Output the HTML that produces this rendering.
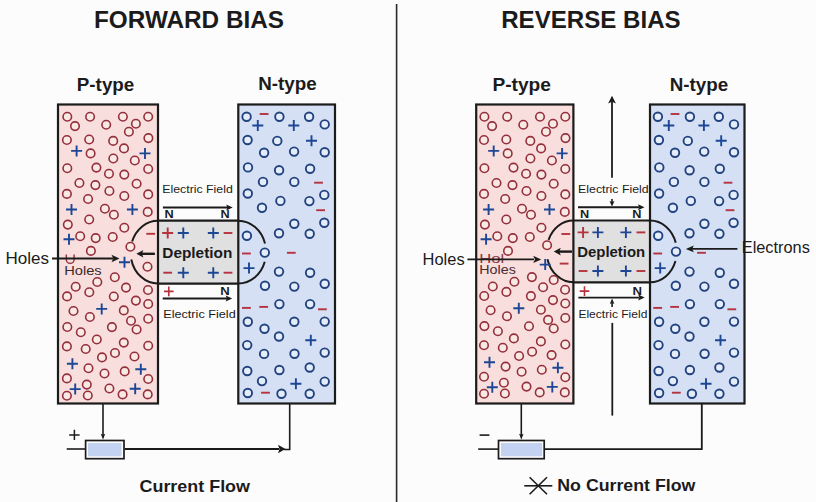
<!DOCTYPE html>
<html><head><meta charset="utf-8"><style>
html,body{margin:0;padding:0;background:#fdfcfd;}
body{width:816px;height:502px;overflow:hidden;}
svg{display:block;}
text{font-family:"Liberation Sans", sans-serif;}
</style></head><body>
<svg width="816" height="502" viewBox="0 0 816 502" font-family='"Liberation Sans", sans-serif'>
<rect width="816" height="502" fill="#fdfcfd"/>
<path d="M396.6 4.0L396.6 502.0" stroke="#2a2a2a" stroke-width="1.6" fill="none"/>
<text x="94" y="27.8" font-size="23.5" font-weight="bold" fill="#1b1b1b" textLength="190" lengthAdjust="spacingAndGlyphs">FORWARD BIAS</text>
<text x="501.2" y="27.8" font-size="23.5" font-weight="bold" fill="#1b1b1b" textLength="179.5" lengthAdjust="spacingAndGlyphs">REVERSE BIAS</text>
<text x="76.8" y="90.8" font-size="17.5" font-weight="bold" fill="#1b1b1b" textLength="57.5" lengthAdjust="spacingAndGlyphs">P-type</text>
<text x="258.2" y="90.4" font-size="17.5" font-weight="bold" fill="#1b1b1b" textLength="58.5" lengthAdjust="spacingAndGlyphs">N-type</text>
<text x="492.4" y="90.6" font-size="17.5" font-weight="bold" fill="#1b1b1b" textLength="58.5" lengthAdjust="spacingAndGlyphs">P-type</text>
<text x="669.7" y="90.5" font-size="17.5" font-weight="bold" fill="#1b1b1b" textLength="58.5" lengthAdjust="spacingAndGlyphs">N-type</text>
<g>
<rect x="58" y="104.5" width="100" height="299.0" fill="#f8dedd"/>
<rect x="238.3" y="104.5" width="96.69999999999999" height="299.0" fill="#d5e0f5"/>
<rect x="158" y="220.7" width="80.30000000000001" height="62.900000000000034" fill="#e0e0e0"/>
<circle cx="67.3" cy="116.7" r="4.25" fill="#f9e9e5" stroke="#952f3b" stroke-width="1.6"/>
<circle cx="90.1" cy="116.7" r="4.25" fill="#f9e9e5" stroke="#952f3b" stroke-width="1.6"/>
<circle cx="122.9" cy="116.7" r="4.25" fill="#f9e9e5" stroke="#952f3b" stroke-width="1.6"/>
<circle cx="148.2" cy="116.7" r="4.25" fill="#f9e9e5" stroke="#952f3b" stroke-width="1.6"/>
<circle cx="75.0" cy="126.1" r="4.25" fill="#f9e9e5" stroke="#952f3b" stroke-width="1.6"/>
<circle cx="106.2" cy="124.7" r="4.25" fill="#f9e9e5" stroke="#952f3b" stroke-width="1.6"/>
<circle cx="135.9" cy="123.7" r="4.25" fill="#f9e9e5" stroke="#952f3b" stroke-width="1.6"/>
<circle cx="128.9" cy="131.8" r="4.25" fill="#f9e9e5" stroke="#952f3b" stroke-width="1.6"/>
<circle cx="66.9" cy="140.0" r="4.25" fill="#f9e9e5" stroke="#952f3b" stroke-width="1.6"/>
<circle cx="89.2" cy="139.5" r="4.25" fill="#f9e9e5" stroke="#952f3b" stroke-width="1.6"/>
<circle cx="113.2" cy="140.9" r="4.25" fill="#f9e9e5" stroke="#952f3b" stroke-width="1.6"/>
<circle cx="148.4" cy="138.1" r="4.25" fill="#f9e9e5" stroke="#952f3b" stroke-width="1.6"/>
<circle cx="124.0" cy="148.4" r="4.25" fill="#f9e9e5" stroke="#952f3b" stroke-width="1.6"/>
<circle cx="90.6" cy="153.4" r="4.25" fill="#f9e9e5" stroke="#952f3b" stroke-width="1.6"/>
<circle cx="113.3" cy="158.5" r="4.25" fill="#f9e9e5" stroke="#952f3b" stroke-width="1.6"/>
<circle cx="134.8" cy="160.5" r="4.25" fill="#f9e9e5" stroke="#952f3b" stroke-width="1.6"/>
<circle cx="67.3" cy="168.2" r="4.25" fill="#f9e9e5" stroke="#952f3b" stroke-width="1.6"/>
<circle cx="96.4" cy="167.6" r="4.25" fill="#f9e9e5" stroke="#952f3b" stroke-width="1.6"/>
<circle cx="109.0" cy="173.7" r="4.25" fill="#f9e9e5" stroke="#952f3b" stroke-width="1.6"/>
<circle cx="124.3" cy="174.6" r="4.25" fill="#f9e9e5" stroke="#952f3b" stroke-width="1.6"/>
<circle cx="148.2" cy="169.0" r="4.25" fill="#f9e9e5" stroke="#952f3b" stroke-width="1.6"/>
<circle cx="79.4" cy="183.0" r="4.25" fill="#f9e9e5" stroke="#952f3b" stroke-width="1.6"/>
<circle cx="95.4" cy="185.1" r="4.25" fill="#f9e9e5" stroke="#952f3b" stroke-width="1.6"/>
<circle cx="109.4" cy="191.0" r="4.25" fill="#f9e9e5" stroke="#952f3b" stroke-width="1.6"/>
<circle cx="136.6" cy="183.7" r="4.25" fill="#f9e9e5" stroke="#952f3b" stroke-width="1.6"/>
<circle cx="66.9" cy="193.9" r="4.25" fill="#f9e9e5" stroke="#952f3b" stroke-width="1.6"/>
<circle cx="88.1" cy="199.0" r="4.25" fill="#f9e9e5" stroke="#952f3b" stroke-width="1.6"/>
<circle cx="124.3" cy="196.0" r="4.25" fill="#f9e9e5" stroke="#952f3b" stroke-width="1.6"/>
<circle cx="148.2" cy="194.4" r="4.25" fill="#f9e9e5" stroke="#952f3b" stroke-width="1.6"/>
<circle cx="104.9" cy="208.8" r="4.25" fill="#f9e9e5" stroke="#952f3b" stroke-width="1.6"/>
<circle cx="113.9" cy="214.8" r="4.25" fill="#f9e9e5" stroke="#952f3b" stroke-width="1.6"/>
<circle cx="89.2" cy="219.5" r="4.25" fill="#f9e9e5" stroke="#952f3b" stroke-width="1.6"/>
<circle cx="147.7" cy="211.9" r="4.25" fill="#f9e9e5" stroke="#952f3b" stroke-width="1.6"/>
<circle cx="67.8" cy="224.6" r="4.25" fill="#f9e9e5" stroke="#952f3b" stroke-width="1.6"/>
<circle cx="124.3" cy="227.7" r="4.25" fill="#f9e9e5" stroke="#952f3b" stroke-width="1.6"/>
<circle cx="80.2" cy="236.2" r="4.25" fill="#f9e9e5" stroke="#952f3b" stroke-width="1.6"/>
<circle cx="95.7" cy="238.1" r="4.25" fill="#f9e9e5" stroke="#952f3b" stroke-width="1.6"/>
<circle cx="112.7" cy="237.0" r="4.25" fill="#f9e9e5" stroke="#952f3b" stroke-width="1.6"/>
<circle cx="90.9" cy="250.9" r="4.25" fill="#f9e9e5" stroke="#952f3b" stroke-width="1.6"/>
<circle cx="114.8" cy="277.2" r="4.25" fill="#f9e9e5" stroke="#952f3b" stroke-width="1.6"/>
<circle cx="97.3" cy="282.0" r="4.25" fill="#f9e9e5" stroke="#952f3b" stroke-width="1.6"/>
<circle cx="75.7" cy="286.8" r="4.25" fill="#f9e9e5" stroke="#952f3b" stroke-width="1.6"/>
<circle cx="126.0" cy="287.6" r="4.25" fill="#f9e9e5" stroke="#952f3b" stroke-width="1.6"/>
<circle cx="148.0" cy="290.0" r="4.25" fill="#f9e9e5" stroke="#952f3b" stroke-width="1.6"/>
<circle cx="89.3" cy="292.3" r="4.25" fill="#f9e9e5" stroke="#952f3b" stroke-width="1.6"/>
<circle cx="67.1" cy="296.4" r="4.25" fill="#f9e9e5" stroke="#952f3b" stroke-width="1.6"/>
<circle cx="113.8" cy="296.5" r="4.25" fill="#f9e9e5" stroke="#952f3b" stroke-width="1.6"/>
<circle cx="135.9" cy="300.6" r="4.25" fill="#f9e9e5" stroke="#952f3b" stroke-width="1.6"/>
<circle cx="148.2" cy="304.0" r="4.25" fill="#f9e9e5" stroke="#952f3b" stroke-width="1.6"/>
<circle cx="73.5" cy="311.0" r="4.25" fill="#f9e9e5" stroke="#952f3b" stroke-width="1.6"/>
<circle cx="123.8" cy="310.4" r="4.25" fill="#f9e9e5" stroke="#952f3b" stroke-width="1.6"/>
<circle cx="89.9" cy="317.0" r="4.25" fill="#f9e9e5" stroke="#952f3b" stroke-width="1.6"/>
<circle cx="148.2" cy="318.8" r="4.25" fill="#f9e9e5" stroke="#952f3b" stroke-width="1.6"/>
<circle cx="131.0" cy="320.7" r="4.25" fill="#f9e9e5" stroke="#952f3b" stroke-width="1.6"/>
<circle cx="67.3" cy="327.0" r="4.25" fill="#f9e9e5" stroke="#952f3b" stroke-width="1.6"/>
<circle cx="111.9" cy="327.1" r="4.25" fill="#f9e9e5" stroke="#952f3b" stroke-width="1.6"/>
<circle cx="136.6" cy="329.5" r="4.25" fill="#f9e9e5" stroke="#952f3b" stroke-width="1.6"/>
<circle cx="80.8" cy="332.3" r="4.25" fill="#f9e9e5" stroke="#952f3b" stroke-width="1.6"/>
<circle cx="96.8" cy="339.5" r="4.25" fill="#f9e9e5" stroke="#952f3b" stroke-width="1.6"/>
<circle cx="123.8" cy="342.6" r="4.25" fill="#f9e9e5" stroke="#952f3b" stroke-width="1.6"/>
<circle cx="66.9" cy="346.4" r="4.25" fill="#f9e9e5" stroke="#952f3b" stroke-width="1.6"/>
<circle cx="85.7" cy="349.0" r="4.25" fill="#f9e9e5" stroke="#952f3b" stroke-width="1.6"/>
<circle cx="148.2" cy="345.7" r="4.25" fill="#f9e9e5" stroke="#952f3b" stroke-width="1.6"/>
<circle cx="115.0" cy="353.0" r="4.25" fill="#f9e9e5" stroke="#952f3b" stroke-width="1.6"/>
<circle cx="102.0" cy="357.4" r="4.25" fill="#f9e9e5" stroke="#952f3b" stroke-width="1.6"/>
<circle cx="134.5" cy="356.5" r="4.25" fill="#f9e9e5" stroke="#952f3b" stroke-width="1.6"/>
<circle cx="88.5" cy="368.2" r="4.25" fill="#f9e9e5" stroke="#952f3b" stroke-width="1.6"/>
<circle cx="104.5" cy="373.5" r="4.25" fill="#f9e9e5" stroke="#952f3b" stroke-width="1.6"/>
<circle cx="124.7" cy="371.4" r="4.25" fill="#f9e9e5" stroke="#952f3b" stroke-width="1.6"/>
<circle cx="66.9" cy="378.4" r="4.25" fill="#f9e9e5" stroke="#952f3b" stroke-width="1.6"/>
<circle cx="148.2" cy="379.0" r="4.25" fill="#f9e9e5" stroke="#952f3b" stroke-width="1.6"/>
<circle cx="86.8" cy="384.6" r="4.25" fill="#f9e9e5" stroke="#952f3b" stroke-width="1.6"/>
<circle cx="109.4" cy="388.5" r="4.25" fill="#f9e9e5" stroke="#952f3b" stroke-width="1.6"/>
<circle cx="66.9" cy="395.8" r="4.25" fill="#f9e9e5" stroke="#952f3b" stroke-width="1.6"/>
<circle cx="87.8" cy="395.5" r="4.25" fill="#f9e9e5" stroke="#952f3b" stroke-width="1.6"/>
<circle cx="122.6" cy="394.4" r="4.25" fill="#f9e9e5" stroke="#952f3b" stroke-width="1.6"/>
<circle cx="147.7" cy="394.4" r="4.25" fill="#f9e9e5" stroke="#952f3b" stroke-width="1.6"/>
<path d="M71.1 150.9H82.1M76.6 145.4V156.4" stroke="#1d4795" stroke-width="1.9" fill="none"/>
<path d="M139.5 153.4H150.5M145.0 147.9V158.9" stroke="#1d4795" stroke-width="1.9" fill="none"/>
<path d="M66.0 209.5H77.0M71.5 204.0V215.0" stroke="#1d4795" stroke-width="1.9" fill="none"/>
<path d="M126.9 209.5H137.9M132.4 204.0V215.0" stroke="#1d4795" stroke-width="1.9" fill="none"/>
<path d="M63.5 239.2H74.5M69.0 233.7V244.7" stroke="#1d4795" stroke-width="1.9" fill="none"/>
<path d="M96.2 308.9H107.2M101.7 303.4V314.4" stroke="#1d4795" stroke-width="1.9" fill="none"/>
<path d="M66.9 363.7H77.9M72.4 358.2V369.2" stroke="#1d4795" stroke-width="1.9" fill="none"/>
<path d="M135.3 369.3H146.3M140.8 363.8V374.8" stroke="#1d4795" stroke-width="1.9" fill="none"/>
<path d="M69.7 389.1H80.7M75.2 383.6V394.6" stroke="#1d4795" stroke-width="1.9" fill="none"/>
<path d="M129.7 388.8H140.7M135.2 383.3V394.3" stroke="#1d4795" stroke-width="1.9" fill="none"/>
<circle cx="246.6" cy="116.7" r="4.25" fill="#e5edfa" stroke="#22437f" stroke-width="1.9"/>
<circle cx="279.4" cy="116.7" r="4.25" fill="#e5edfa" stroke="#22437f" stroke-width="1.9"/>
<circle cx="309.1" cy="116.7" r="4.25" fill="#e5edfa" stroke="#22437f" stroke-width="1.9"/>
<circle cx="324.7" cy="124.4" r="4.25" fill="#e5edfa" stroke="#22437f" stroke-width="1.9"/>
<circle cx="247.6" cy="140.0" r="4.25" fill="#e5edfa" stroke="#22437f" stroke-width="1.9"/>
<circle cx="277.3" cy="140.9" r="4.25" fill="#e5edfa" stroke="#22437f" stroke-width="1.9"/>
<circle cx="264.1" cy="152.7" r="4.25" fill="#e5edfa" stroke="#22437f" stroke-width="1.9"/>
<circle cx="294.1" cy="151.6" r="4.25" fill="#e5edfa" stroke="#22437f" stroke-width="1.9"/>
<circle cx="324.7" cy="152.3" r="4.25" fill="#e5edfa" stroke="#22437f" stroke-width="1.9"/>
<circle cx="248.0" cy="167.4" r="4.25" fill="#e5edfa" stroke="#22437f" stroke-width="1.9"/>
<circle cx="279.1" cy="170.3" r="4.25" fill="#e5edfa" stroke="#22437f" stroke-width="1.9"/>
<circle cx="310.1" cy="168.7" r="4.25" fill="#e5edfa" stroke="#22437f" stroke-width="1.9"/>
<circle cx="263.0" cy="181.9" r="4.25" fill="#e5edfa" stroke="#22437f" stroke-width="1.9"/>
<circle cx="294.3" cy="181.9" r="4.25" fill="#e5edfa" stroke="#22437f" stroke-width="1.9"/>
<circle cx="247.8" cy="193.5" r="4.25" fill="#e5edfa" stroke="#22437f" stroke-width="1.9"/>
<circle cx="324.3" cy="194.9" r="4.25" fill="#e5edfa" stroke="#22437f" stroke-width="1.9"/>
<circle cx="280.4" cy="200.9" r="4.25" fill="#e5edfa" stroke="#22437f" stroke-width="1.9"/>
<circle cx="309.4" cy="201.1" r="4.25" fill="#e5edfa" stroke="#22437f" stroke-width="1.9"/>
<circle cx="262.0" cy="207.7" r="4.25" fill="#e5edfa" stroke="#22437f" stroke-width="1.9"/>
<circle cx="294.3" cy="223.7" r="4.25" fill="#e5edfa" stroke="#22437f" stroke-width="1.9"/>
<circle cx="324.3" cy="222.8" r="4.25" fill="#e5edfa" stroke="#22437f" stroke-width="1.9"/>
<circle cx="246.9" cy="235.8" r="4.25" fill="#e5edfa" stroke="#22437f" stroke-width="1.9"/>
<circle cx="279.0" cy="233.2" r="4.25" fill="#e5edfa" stroke="#22437f" stroke-width="1.9"/>
<circle cx="309.7" cy="233.7" r="4.25" fill="#e5edfa" stroke="#22437f" stroke-width="1.9"/>
<circle cx="279.0" cy="271.6" r="4.25" fill="#e5edfa" stroke="#22437f" stroke-width="1.9"/>
<circle cx="310.1" cy="272.7" r="4.25" fill="#e5edfa" stroke="#22437f" stroke-width="1.9"/>
<circle cx="265.0" cy="285.8" r="4.25" fill="#e5edfa" stroke="#22437f" stroke-width="1.9"/>
<circle cx="294.3" cy="286.6" r="4.25" fill="#e5edfa" stroke="#22437f" stroke-width="1.9"/>
<circle cx="324.7" cy="283.8" r="4.25" fill="#e5edfa" stroke="#22437f" stroke-width="1.9"/>
<circle cx="279.4" cy="304.1" r="4.25" fill="#e5edfa" stroke="#22437f" stroke-width="1.9"/>
<circle cx="310.1" cy="304.1" r="4.25" fill="#e5edfa" stroke="#22437f" stroke-width="1.9"/>
<circle cx="247.8" cy="321.8" r="4.25" fill="#e5edfa" stroke="#22437f" stroke-width="1.9"/>
<circle cx="294.3" cy="321.8" r="4.25" fill="#e5edfa" stroke="#22437f" stroke-width="1.9"/>
<circle cx="324.7" cy="321.6" r="4.25" fill="#e5edfa" stroke="#22437f" stroke-width="1.9"/>
<circle cx="264.5" cy="328.8" r="4.25" fill="#e5edfa" stroke="#22437f" stroke-width="1.9"/>
<circle cx="279.0" cy="336.5" r="4.25" fill="#e5edfa" stroke="#22437f" stroke-width="1.9"/>
<circle cx="247.2" cy="345.1" r="4.25" fill="#e5edfa" stroke="#22437f" stroke-width="1.9"/>
<circle cx="264.1" cy="353.9" r="4.25" fill="#e5edfa" stroke="#22437f" stroke-width="1.9"/>
<circle cx="294.5" cy="353.7" r="4.25" fill="#e5edfa" stroke="#22437f" stroke-width="1.9"/>
<circle cx="324.7" cy="352.6" r="4.25" fill="#e5edfa" stroke="#22437f" stroke-width="1.9"/>
<circle cx="247.3" cy="371.0" r="4.25" fill="#e5edfa" stroke="#22437f" stroke-width="1.9"/>
<circle cx="279.4" cy="370.0" r="4.25" fill="#e5edfa" stroke="#22437f" stroke-width="1.9"/>
<circle cx="309.7" cy="367.5" r="4.25" fill="#e5edfa" stroke="#22437f" stroke-width="1.9"/>
<circle cx="262.0" cy="381.1" r="4.25" fill="#e5edfa" stroke="#22437f" stroke-width="1.9"/>
<circle cx="324.7" cy="381.6" r="4.25" fill="#e5edfa" stroke="#22437f" stroke-width="1.9"/>
<circle cx="247.8" cy="393.0" r="4.25" fill="#e5edfa" stroke="#22437f" stroke-width="1.9"/>
<circle cx="281.5" cy="393.7" r="4.25" fill="#e5edfa" stroke="#22437f" stroke-width="1.9"/>
<circle cx="309.7" cy="393.7" r="4.25" fill="#e5edfa" stroke="#22437f" stroke-width="1.9"/>
<path d="M252.3 125.5H263.3M257.8 120.0V131.0" stroke="#1d4795" stroke-width="1.9" fill="none"/>
<path d="M288.3 125.5H299.3M293.8 120.0V131.0" stroke="#1d4795" stroke-width="1.9" fill="none"/>
<path d="M306.0 140.7H317.0M311.5 135.2V146.2" stroke="#1d4795" stroke-width="1.9" fill="none"/>
<path d="M243.5 268.1H254.5M249.0 262.6V273.6" stroke="#1d4795" stroke-width="1.9" fill="none"/>
<path d="M305.3 340.3H316.3M310.8 334.8V345.8" stroke="#1d4795" stroke-width="1.9" fill="none"/>
<path d="M290.4 383.7H301.4M295.9 378.2V389.2" stroke="#1d4795" stroke-width="1.9" fill="none"/>
<path d="M259.7 114.0H268.5" stroke="#b5323f" stroke-width="1.9" fill="none"/>
<path d="M314.1 182.7H322.9" stroke="#b5323f" stroke-width="1.9" fill="none"/>
<path d="M316.2 210.2H325.0" stroke="#b5323f" stroke-width="1.9" fill="none"/>
<path d="M242.0 253.5H250.8" stroke="#b5323f" stroke-width="1.9" fill="none"/>
<path d="M286.9 252.8H295.7" stroke="#b5323f" stroke-width="1.9" fill="none"/>
<path d="M242.0 307.9H250.8" stroke="#b5323f" stroke-width="1.9" fill="none"/>
<path d="M259.3 306.9H268.1" stroke="#b5323f" stroke-width="1.9" fill="none"/>
<path d="M318.0 309.3H326.8" stroke="#b5323f" stroke-width="1.9" fill="none"/>
<path d="M261.1 392.7H269.9" stroke="#b5323f" stroke-width="1.9" fill="none"/>
<rect x="58" y="104.5" width="100" height="299.0" fill="none" stroke="#1b1b1b" stroke-width="2.2"/>
<rect x="238.3" y="104.5" width="96.69999999999999" height="299.0" fill="none" stroke="#1b1b1b" stroke-width="2.2"/>
<path d="M158.0 220.7L238.3 220.7" stroke="#1b1b1b" stroke-width="2.2" fill="none"/>
<path d="M158.0 283.6L238.3 283.6" stroke="#1b1b1b" stroke-width="2.2" fill="none"/>
</g>
<g>
<rect x="476.2" y="104.5" width="97.19999999999999" height="299.0" fill="#f8dedd"/>
<rect x="650" y="104.5" width="94.5" height="299.0" fill="#d5e0f5"/>
<rect x="573.4" y="220.5" width="76.60000000000002" height="61.80000000000001" fill="#e0e0e0"/>
<circle cx="484.4" cy="116.7" r="4.25" fill="#f9e9e5" stroke="#952f3b" stroke-width="1.6"/>
<circle cx="507.2" cy="116.7" r="4.25" fill="#f9e9e5" stroke="#952f3b" stroke-width="1.6"/>
<circle cx="540.0" cy="116.7" r="4.25" fill="#f9e9e5" stroke="#952f3b" stroke-width="1.6"/>
<circle cx="565.3" cy="116.7" r="4.25" fill="#f9e9e5" stroke="#952f3b" stroke-width="1.6"/>
<circle cx="492.1" cy="126.1" r="4.25" fill="#f9e9e5" stroke="#952f3b" stroke-width="1.6"/>
<circle cx="523.3" cy="124.7" r="4.25" fill="#f9e9e5" stroke="#952f3b" stroke-width="1.6"/>
<circle cx="553.0" cy="123.7" r="4.25" fill="#f9e9e5" stroke="#952f3b" stroke-width="1.6"/>
<circle cx="546.0" cy="131.8" r="4.25" fill="#f9e9e5" stroke="#952f3b" stroke-width="1.6"/>
<circle cx="484.0" cy="140.0" r="4.25" fill="#f9e9e5" stroke="#952f3b" stroke-width="1.6"/>
<circle cx="506.3" cy="139.5" r="4.25" fill="#f9e9e5" stroke="#952f3b" stroke-width="1.6"/>
<circle cx="530.3" cy="140.9" r="4.25" fill="#f9e9e5" stroke="#952f3b" stroke-width="1.6"/>
<circle cx="565.5" cy="138.1" r="4.25" fill="#f9e9e5" stroke="#952f3b" stroke-width="1.6"/>
<circle cx="541.1" cy="148.4" r="4.25" fill="#f9e9e5" stroke="#952f3b" stroke-width="1.6"/>
<circle cx="507.7" cy="153.4" r="4.25" fill="#f9e9e5" stroke="#952f3b" stroke-width="1.6"/>
<circle cx="530.4" cy="158.5" r="4.25" fill="#f9e9e5" stroke="#952f3b" stroke-width="1.6"/>
<circle cx="551.9" cy="160.5" r="4.25" fill="#f9e9e5" stroke="#952f3b" stroke-width="1.6"/>
<circle cx="484.4" cy="168.2" r="4.25" fill="#f9e9e5" stroke="#952f3b" stroke-width="1.6"/>
<circle cx="513.5" cy="167.6" r="4.25" fill="#f9e9e5" stroke="#952f3b" stroke-width="1.6"/>
<circle cx="526.1" cy="173.7" r="4.25" fill="#f9e9e5" stroke="#952f3b" stroke-width="1.6"/>
<circle cx="541.4" cy="174.6" r="4.25" fill="#f9e9e5" stroke="#952f3b" stroke-width="1.6"/>
<circle cx="565.3" cy="169.0" r="4.25" fill="#f9e9e5" stroke="#952f3b" stroke-width="1.6"/>
<circle cx="496.5" cy="183.0" r="4.25" fill="#f9e9e5" stroke="#952f3b" stroke-width="1.6"/>
<circle cx="512.5" cy="185.1" r="4.25" fill="#f9e9e5" stroke="#952f3b" stroke-width="1.6"/>
<circle cx="526.5" cy="191.0" r="4.25" fill="#f9e9e5" stroke="#952f3b" stroke-width="1.6"/>
<circle cx="553.7" cy="183.7" r="4.25" fill="#f9e9e5" stroke="#952f3b" stroke-width="1.6"/>
<circle cx="484.0" cy="193.9" r="4.25" fill="#f9e9e5" stroke="#952f3b" stroke-width="1.6"/>
<circle cx="505.2" cy="199.0" r="4.25" fill="#f9e9e5" stroke="#952f3b" stroke-width="1.6"/>
<circle cx="541.4" cy="196.0" r="4.25" fill="#f9e9e5" stroke="#952f3b" stroke-width="1.6"/>
<circle cx="565.3" cy="194.4" r="4.25" fill="#f9e9e5" stroke="#952f3b" stroke-width="1.6"/>
<circle cx="522.0" cy="208.8" r="4.25" fill="#f9e9e5" stroke="#952f3b" stroke-width="1.6"/>
<circle cx="531.0" cy="214.8" r="4.25" fill="#f9e9e5" stroke="#952f3b" stroke-width="1.6"/>
<circle cx="506.3" cy="219.5" r="4.25" fill="#f9e9e5" stroke="#952f3b" stroke-width="1.6"/>
<circle cx="564.8" cy="211.9" r="4.25" fill="#f9e9e5" stroke="#952f3b" stroke-width="1.6"/>
<circle cx="484.9" cy="224.6" r="4.25" fill="#f9e9e5" stroke="#952f3b" stroke-width="1.6"/>
<circle cx="541.4" cy="227.7" r="4.25" fill="#f9e9e5" stroke="#952f3b" stroke-width="1.6"/>
<circle cx="497.3" cy="236.2" r="4.25" fill="#f9e9e5" stroke="#952f3b" stroke-width="1.6"/>
<circle cx="512.8" cy="238.1" r="4.25" fill="#f9e9e5" stroke="#952f3b" stroke-width="1.6"/>
<circle cx="529.8" cy="237.0" r="4.25" fill="#f9e9e5" stroke="#952f3b" stroke-width="1.6"/>
<circle cx="508.0" cy="250.9" r="4.25" fill="#f9e9e5" stroke="#952f3b" stroke-width="1.6"/>
<circle cx="531.9" cy="277.1" r="4.25" fill="#f9e9e5" stroke="#952f3b" stroke-width="1.6"/>
<circle cx="514.4" cy="281.8" r="4.25" fill="#f9e9e5" stroke="#952f3b" stroke-width="1.6"/>
<circle cx="492.8" cy="286.5" r="4.25" fill="#f9e9e5" stroke="#952f3b" stroke-width="1.6"/>
<circle cx="543.1" cy="287.3" r="4.25" fill="#f9e9e5" stroke="#952f3b" stroke-width="1.6"/>
<circle cx="565.1" cy="289.7" r="4.25" fill="#f9e9e5" stroke="#952f3b" stroke-width="1.6"/>
<circle cx="506.4" cy="291.9" r="4.25" fill="#f9e9e5" stroke="#952f3b" stroke-width="1.6"/>
<circle cx="484.2" cy="296.0" r="4.25" fill="#f9e9e5" stroke="#952f3b" stroke-width="1.6"/>
<circle cx="530.9" cy="296.1" r="4.25" fill="#f9e9e5" stroke="#952f3b" stroke-width="1.6"/>
<circle cx="553.0" cy="300.1" r="4.25" fill="#f9e9e5" stroke="#952f3b" stroke-width="1.6"/>
<circle cx="565.3" cy="303.5" r="4.25" fill="#f9e9e5" stroke="#952f3b" stroke-width="1.6"/>
<circle cx="490.6" cy="310.3" r="4.25" fill="#f9e9e5" stroke="#952f3b" stroke-width="1.6"/>
<circle cx="540.9" cy="309.8" r="4.25" fill="#f9e9e5" stroke="#952f3b" stroke-width="1.6"/>
<circle cx="507.0" cy="316.2" r="4.25" fill="#f9e9e5" stroke="#952f3b" stroke-width="1.6"/>
<circle cx="565.3" cy="318.0" r="4.25" fill="#f9e9e5" stroke="#952f3b" stroke-width="1.6"/>
<circle cx="548.1" cy="319.9" r="4.25" fill="#f9e9e5" stroke="#952f3b" stroke-width="1.6"/>
<circle cx="484.4" cy="326.1" r="4.25" fill="#f9e9e5" stroke="#952f3b" stroke-width="1.6"/>
<circle cx="529.0" cy="326.2" r="4.25" fill="#f9e9e5" stroke="#952f3b" stroke-width="1.6"/>
<circle cx="553.7" cy="328.5" r="4.25" fill="#f9e9e5" stroke="#952f3b" stroke-width="1.6"/>
<circle cx="497.9" cy="331.3" r="4.25" fill="#f9e9e5" stroke="#952f3b" stroke-width="1.6"/>
<circle cx="513.9" cy="338.4" r="4.25" fill="#f9e9e5" stroke="#952f3b" stroke-width="1.6"/>
<circle cx="540.9" cy="341.4" r="4.25" fill="#f9e9e5" stroke="#952f3b" stroke-width="1.6"/>
<circle cx="484.0" cy="345.2" r="4.25" fill="#f9e9e5" stroke="#952f3b" stroke-width="1.6"/>
<circle cx="502.8" cy="347.7" r="4.25" fill="#f9e9e5" stroke="#952f3b" stroke-width="1.6"/>
<circle cx="565.3" cy="344.5" r="4.25" fill="#f9e9e5" stroke="#952f3b" stroke-width="1.6"/>
<circle cx="532.1" cy="351.7" r="4.25" fill="#f9e9e5" stroke="#952f3b" stroke-width="1.6"/>
<circle cx="519.1" cy="356.0" r="4.25" fill="#f9e9e5" stroke="#952f3b" stroke-width="1.6"/>
<circle cx="551.6" cy="355.1" r="4.25" fill="#f9e9e5" stroke="#952f3b" stroke-width="1.6"/>
<circle cx="505.6" cy="366.6" r="4.25" fill="#f9e9e5" stroke="#952f3b" stroke-width="1.6"/>
<circle cx="521.6" cy="371.8" r="4.25" fill="#f9e9e5" stroke="#952f3b" stroke-width="1.6"/>
<circle cx="541.8" cy="369.8" r="4.25" fill="#f9e9e5" stroke="#952f3b" stroke-width="1.6"/>
<circle cx="484.0" cy="376.7" r="4.25" fill="#f9e9e5" stroke="#952f3b" stroke-width="1.6"/>
<circle cx="565.3" cy="377.3" r="4.25" fill="#f9e9e5" stroke="#952f3b" stroke-width="1.6"/>
<circle cx="503.9" cy="382.8" r="4.25" fill="#f9e9e5" stroke="#952f3b" stroke-width="1.6"/>
<circle cx="526.5" cy="386.6" r="4.25" fill="#f9e9e5" stroke="#952f3b" stroke-width="1.6"/>
<circle cx="484.0" cy="393.8" r="4.25" fill="#f9e9e5" stroke="#952f3b" stroke-width="1.6"/>
<circle cx="504.9" cy="393.5" r="4.25" fill="#f9e9e5" stroke="#952f3b" stroke-width="1.6"/>
<circle cx="539.7" cy="392.4" r="4.25" fill="#f9e9e5" stroke="#952f3b" stroke-width="1.6"/>
<circle cx="564.8" cy="392.4" r="4.25" fill="#f9e9e5" stroke="#952f3b" stroke-width="1.6"/>
<path d="M488.2 150.9H499.2M493.7 145.4V156.4" stroke="#1d4795" stroke-width="1.9" fill="none"/>
<path d="M556.6 153.4H567.6M562.1 147.9V158.9" stroke="#1d4795" stroke-width="1.9" fill="none"/>
<path d="M483.1 209.5H494.1M488.6 204.0V215.0" stroke="#1d4795" stroke-width="1.9" fill="none"/>
<path d="M544.0 209.5H555.0M549.5 204.0V215.0" stroke="#1d4795" stroke-width="1.9" fill="none"/>
<path d="M480.6 239.2H491.6M486.1 233.7V244.7" stroke="#1d4795" stroke-width="1.9" fill="none"/>
<path d="M513.3 308.3H524.3M518.8 302.8V313.8" stroke="#1d4795" stroke-width="1.9" fill="none"/>
<path d="M484.0 362.2H495.0M489.5 356.7V367.7" stroke="#1d4795" stroke-width="1.9" fill="none"/>
<path d="M552.4 367.7H563.4M557.9 362.2V373.2" stroke="#1d4795" stroke-width="1.9" fill="none"/>
<path d="M486.8 387.2H497.8M492.3 381.7V392.7" stroke="#1d4795" stroke-width="1.9" fill="none"/>
<path d="M546.8 386.9H557.8M552.3 381.4V392.4" stroke="#1d4795" stroke-width="1.9" fill="none"/>
<circle cx="657.9" cy="116.7" r="4.25" fill="#e5edfa" stroke="#22437f" stroke-width="1.9"/>
<circle cx="689.9" cy="116.7" r="4.25" fill="#e5edfa" stroke="#22437f" stroke-width="1.9"/>
<circle cx="718.8" cy="116.7" r="4.25" fill="#e5edfa" stroke="#22437f" stroke-width="1.9"/>
<circle cx="734.0" cy="124.4" r="4.25" fill="#e5edfa" stroke="#22437f" stroke-width="1.9"/>
<circle cx="658.9" cy="140.0" r="4.25" fill="#e5edfa" stroke="#22437f" stroke-width="1.9"/>
<circle cx="687.8" cy="140.9" r="4.25" fill="#e5edfa" stroke="#22437f" stroke-width="1.9"/>
<circle cx="675.0" cy="152.7" r="4.25" fill="#e5edfa" stroke="#22437f" stroke-width="1.9"/>
<circle cx="704.2" cy="151.6" r="4.25" fill="#e5edfa" stroke="#22437f" stroke-width="1.9"/>
<circle cx="734.0" cy="152.3" r="4.25" fill="#e5edfa" stroke="#22437f" stroke-width="1.9"/>
<circle cx="659.3" cy="167.4" r="4.25" fill="#e5edfa" stroke="#22437f" stroke-width="1.9"/>
<circle cx="689.6" cy="170.3" r="4.25" fill="#e5edfa" stroke="#22437f" stroke-width="1.9"/>
<circle cx="719.8" cy="168.7" r="4.25" fill="#e5edfa" stroke="#22437f" stroke-width="1.9"/>
<circle cx="673.9" cy="181.9" r="4.25" fill="#e5edfa" stroke="#22437f" stroke-width="1.9"/>
<circle cx="704.4" cy="181.9" r="4.25" fill="#e5edfa" stroke="#22437f" stroke-width="1.9"/>
<circle cx="659.1" cy="193.5" r="4.25" fill="#e5edfa" stroke="#22437f" stroke-width="1.9"/>
<circle cx="733.6" cy="194.9" r="4.25" fill="#e5edfa" stroke="#22437f" stroke-width="1.9"/>
<circle cx="690.8" cy="200.9" r="4.25" fill="#e5edfa" stroke="#22437f" stroke-width="1.9"/>
<circle cx="719.1" cy="201.1" r="4.25" fill="#e5edfa" stroke="#22437f" stroke-width="1.9"/>
<circle cx="672.9" cy="207.7" r="4.25" fill="#e5edfa" stroke="#22437f" stroke-width="1.9"/>
<circle cx="704.4" cy="223.7" r="4.25" fill="#e5edfa" stroke="#22437f" stroke-width="1.9"/>
<circle cx="733.6" cy="222.8" r="4.25" fill="#e5edfa" stroke="#22437f" stroke-width="1.9"/>
<circle cx="658.2" cy="235.8" r="4.25" fill="#e5edfa" stroke="#22437f" stroke-width="1.9"/>
<circle cx="689.5" cy="233.2" r="4.25" fill="#e5edfa" stroke="#22437f" stroke-width="1.9"/>
<circle cx="719.4" cy="233.7" r="4.25" fill="#e5edfa" stroke="#22437f" stroke-width="1.9"/>
<circle cx="689.5" cy="271.6" r="4.25" fill="#e5edfa" stroke="#22437f" stroke-width="1.9"/>
<circle cx="719.8" cy="272.7" r="4.25" fill="#e5edfa" stroke="#22437f" stroke-width="1.9"/>
<circle cx="675.8" cy="285.8" r="4.25" fill="#e5edfa" stroke="#22437f" stroke-width="1.9"/>
<circle cx="704.4" cy="286.6" r="4.25" fill="#e5edfa" stroke="#22437f" stroke-width="1.9"/>
<circle cx="734.0" cy="283.8" r="4.25" fill="#e5edfa" stroke="#22437f" stroke-width="1.9"/>
<circle cx="689.9" cy="304.1" r="4.25" fill="#e5edfa" stroke="#22437f" stroke-width="1.9"/>
<circle cx="719.8" cy="304.1" r="4.25" fill="#e5edfa" stroke="#22437f" stroke-width="1.9"/>
<circle cx="659.1" cy="321.8" r="4.25" fill="#e5edfa" stroke="#22437f" stroke-width="1.9"/>
<circle cx="704.4" cy="321.8" r="4.25" fill="#e5edfa" stroke="#22437f" stroke-width="1.9"/>
<circle cx="734.0" cy="321.6" r="4.25" fill="#e5edfa" stroke="#22437f" stroke-width="1.9"/>
<circle cx="675.3" cy="328.8" r="4.25" fill="#e5edfa" stroke="#22437f" stroke-width="1.9"/>
<circle cx="689.5" cy="336.5" r="4.25" fill="#e5edfa" stroke="#22437f" stroke-width="1.9"/>
<circle cx="658.5" cy="345.1" r="4.25" fill="#e5edfa" stroke="#22437f" stroke-width="1.9"/>
<circle cx="675.0" cy="353.9" r="4.25" fill="#e5edfa" stroke="#22437f" stroke-width="1.9"/>
<circle cx="704.6" cy="353.7" r="4.25" fill="#e5edfa" stroke="#22437f" stroke-width="1.9"/>
<circle cx="734.0" cy="352.6" r="4.25" fill="#e5edfa" stroke="#22437f" stroke-width="1.9"/>
<circle cx="658.6" cy="371.0" r="4.25" fill="#e5edfa" stroke="#22437f" stroke-width="1.9"/>
<circle cx="689.9" cy="370.0" r="4.25" fill="#e5edfa" stroke="#22437f" stroke-width="1.9"/>
<circle cx="719.4" cy="367.5" r="4.25" fill="#e5edfa" stroke="#22437f" stroke-width="1.9"/>
<circle cx="672.9" cy="381.1" r="4.25" fill="#e5edfa" stroke="#22437f" stroke-width="1.9"/>
<circle cx="734.0" cy="381.6" r="4.25" fill="#e5edfa" stroke="#22437f" stroke-width="1.9"/>
<circle cx="659.1" cy="393.0" r="4.25" fill="#e5edfa" stroke="#22437f" stroke-width="1.9"/>
<circle cx="691.9" cy="393.7" r="4.25" fill="#e5edfa" stroke="#22437f" stroke-width="1.9"/>
<circle cx="719.4" cy="393.7" r="4.25" fill="#e5edfa" stroke="#22437f" stroke-width="1.9"/>
<path d="M663.3 125.5H674.3M668.8 120.0V131.0" stroke="#1d4795" stroke-width="1.9" fill="none"/>
<path d="M698.4 125.5H709.4M703.9 120.0V131.0" stroke="#1d4795" stroke-width="1.9" fill="none"/>
<path d="M715.7 140.7H726.7M721.2 135.2V146.2" stroke="#1d4795" stroke-width="1.9" fill="none"/>
<path d="M654.7 268.1H665.7M660.2 262.6V273.6" stroke="#1d4795" stroke-width="1.9" fill="none"/>
<path d="M715.0 340.3H726.0M720.5 334.8V345.8" stroke="#1d4795" stroke-width="1.9" fill="none"/>
<path d="M700.5 383.7H711.5M706.0 378.2V389.2" stroke="#1d4795" stroke-width="1.9" fill="none"/>
<path d="M670.6 114.0H679.4" stroke="#b5323f" stroke-width="1.9" fill="none"/>
<path d="M723.6 182.7H732.4" stroke="#b5323f" stroke-width="1.9" fill="none"/>
<path d="M725.6 210.2H734.4" stroke="#b5323f" stroke-width="1.9" fill="none"/>
<path d="M653.3 253.5H662.1" stroke="#b5323f" stroke-width="1.9" fill="none"/>
<path d="M697.1 252.8H705.9" stroke="#b5323f" stroke-width="1.9" fill="none"/>
<path d="M653.3 307.9H662.1" stroke="#b5323f" stroke-width="1.9" fill="none"/>
<path d="M670.2 306.9H679.0" stroke="#b5323f" stroke-width="1.9" fill="none"/>
<path d="M727.4 309.3H736.2" stroke="#b5323f" stroke-width="1.9" fill="none"/>
<path d="M671.9 392.7H680.7" stroke="#b5323f" stroke-width="1.9" fill="none"/>
<rect x="476.2" y="104.5" width="97.19999999999999" height="299.0" fill="none" stroke="#1b1b1b" stroke-width="2.2"/>
<rect x="650" y="104.5" width="94.5" height="299.0" fill="none" stroke="#1b1b1b" stroke-width="2.2"/>
<path d="M573.4 220.5L650.0 220.5" stroke="#1b1b1b" stroke-width="2.2" fill="none"/>
<path d="M573.4 282.3L650.0 282.3" stroke="#1b1b1b" stroke-width="2.2" fill="none"/>
</g>
<path d="M158 220.7A27.5 31.450000000000017 0 0 0 132.12 241.5" fill="none" stroke="#1b1b1b" stroke-width="2"/>
<path d="M131.26 259.5A27.5 31.450000000000017 0 0 0 158 283.6" fill="none" stroke="#1b1b1b" stroke-width="2"/>
<path d="M238.3 220.7A27.8 31.450000000000017 0 0 1 265.03 243.5" fill="none" stroke="#1b1b1b" stroke-width="2"/>
<path d="M264.76 261.8A27.8 31.450000000000017 0 0 1 238.3 283.6" fill="none" stroke="#1b1b1b" stroke-width="2"/>
<circle cx="130.4" cy="246.8" r="4.25" fill="#f9e9e5" stroke="#952f3b" stroke-width="1.6"/>
<path d="M119.0 262.2H130.0M124.5 256.7V267.7" stroke="#1d4795" stroke-width="1.9" fill="none"/>
<path d="M146.3 233.8H155.1" stroke="#b5323f" stroke-width="1.9" fill="none"/>
<circle cx="264.8" cy="252.6" r="4.25" fill="#e5edfa" stroke="#22437f" stroke-width="1.9"/>
<path d="M162.2 233.0H173.2M167.7 227.5V238.5" stroke="#b5323f" stroke-width="1.9" fill="none"/>
<path d="M177.8 233.0H188.8M183.3 227.5V238.5" stroke="#1d4795" stroke-width="1.9" fill="none"/>
<path d="M207.8 233.0H218.8M213.3 227.5V238.5" stroke="#1d4795" stroke-width="1.9" fill="none"/>
<path d="M223.6 233.0H232.4" stroke="#b5323f" stroke-width="1.9" fill="none"/>
<path d="M163.3 272.7H172.1" stroke="#b5323f" stroke-width="1.9" fill="none"/>
<path d="M177.8 272.7H188.8M183.3 267.2V278.2" stroke="#1d4795" stroke-width="1.9" fill="none"/>
<path d="M207.8 272.7H218.8M213.3 267.2V278.2" stroke="#1d4795" stroke-width="1.9" fill="none"/>
<path d="M223.6 272.7H232.4" stroke="#b5323f" stroke-width="1.9" fill="none"/>
<text x="162.3" y="257.6" font-size="14.5" font-weight="bold" fill="#1b1b1b" textLength="70" lengthAdjust="spacingAndGlyphs">Depletion</text>
<path d="M154.9 253.8L141.0 253.8" stroke="#1b1b1b" stroke-width="2.4" fill="none"/>
<path d="M136.4 253.8L143.4 250.0L141.9 253.8L143.4 257.6Z" fill="#1b1b1b"/>
<text x="162.3" y="193" font-size="11.5" font-weight="normal" fill="#1b1b1b" textLength="70.5" lengthAdjust="spacingAndGlyphs">Electric Field</text>
<path d="M162.9 207.5L228.0 207.5" stroke="#1b1b1b" stroke-width="1.9" fill="none"/>
<path d="M232.7 207.5L226.2 204.5L227.4 207.5L226.2 210.5Z" fill="#1b1b1b"/>
<text x="164.4" y="217.8" font-size="11.5" font-weight="bold" fill="#1b1b1b" textLength="9.2" lengthAdjust="spacingAndGlyphs">N</text>
<text x="220.5" y="217.8" font-size="11.5" font-weight="bold" fill="#1b1b1b" textLength="9.2" lengthAdjust="spacingAndGlyphs">N</text>
<path d="M164.0 291.4H173.6M168.8 286.6V296.2" stroke="#b5323f" stroke-width="1.6" fill="none"/>
<text x="220.3" y="295.3" font-size="11.5" font-weight="bold" fill="#1b1b1b" textLength="9.5" lengthAdjust="spacingAndGlyphs">N</text>
<path d="M162.7 298.5L227.0 298.5" stroke="#1b1b1b" stroke-width="1.9" fill="none"/>
<path d="M232.2 298.5L225.7 295.5L226.9 298.5L225.7 301.5Z" fill="#1b1b1b"/>
<text x="163.2" y="318.2" font-size="11.5" font-weight="normal" fill="#1b1b1b" textLength="72.5" lengthAdjust="spacingAndGlyphs">Electric Field</text>
<text x="5.4" y="263.9" font-size="16.5" font-weight="normal" fill="#1b1b1b" textLength="43.5" lengthAdjust="spacingAndGlyphs">Holes</text>
<path d="M66.3 254.6V259.5A3.9 3.9 0 0 0 74.1 259.5V254.6" fill="none" stroke="#952f3b" stroke-width="1.4"/>
<path d="M52.0 258.5L113.0 258.5" stroke="#1b1b1b" stroke-width="1.8" fill="none"/>
<path d="M119.5 258.5L111.5 254.8L113.3 258.5L111.5 262.2Z" fill="#1b1b1b"/>
<text x="64.2" y="275" font-size="13" font-weight="normal" fill="#3b2a2c" textLength="37.5" lengthAdjust="spacingAndGlyphs">Holes</text>
<path d="M103.0 404.0L103.0 435.0" stroke="#1b1b1b" stroke-width="1.6" fill="none"/>
<path d="M103.0 439.8L100.8 433.8L103.0 434.8L105.2 433.8Z" fill="#1b1b1b"/>
<rect x="85.6" y="440.5" width="38.4" height="18.2" fill="#fdfcfd" stroke="#1b1b1b" stroke-width="1.7"/>
<rect x="88" y="443" width="33.5" height="13.3" fill="#c3d2f1"/>
<path d="M66.7 449.0L85.0 449.0" stroke="#1b1b1b" stroke-width="1.6" fill="none"/>
<path d="M124.8 449.0L279.0 449.0" stroke="#1b1b1b" stroke-width="1.8" fill="none"/>
<path d="M285.5 449.0L278.0 444.8L279.5 449.0L278.0 453.2Z" fill="#1b1b1b"/>
<path d="M289.7 404V449.5H284" fill="none" stroke="#1b1b1b" stroke-width="1.6"/>
<path d="M69.2 434.9H79.6M74.4 429.7V440.1" stroke="#1b1b1b" stroke-width="1.5" fill="none"/>
<text x="139.5" y="491.5" font-size="17" font-weight="bold" fill="#1b1b1b" textLength="110.5" lengthAdjust="spacingAndGlyphs">Current Flow</text>
<circle cx="147.5" cy="266.8" r="4.25" fill="#f9e9e5" stroke="#952f3b" stroke-width="1.6"/>
<path d="M573.4 220.5A26.8 30.900000000000006 0 0 0 548.56 239.8" fill="none" stroke="#1b1b1b" stroke-width="2"/>
<path d="M547.47 259.2A26.8 30.900000000000006 0 0 0 573.4 282.3" fill="none" stroke="#1b1b1b" stroke-width="2"/>
<path d="M650 220.5A26.8 30.900000000000006 0 0 1 675.74 242.8" fill="none" stroke="#1b1b1b" stroke-width="2"/>
<path d="M675.47 261A26.8 30.900000000000006 0 0 1 650 282.3" fill="none" stroke="#1b1b1b" stroke-width="2"/>
<circle cx="547.1" cy="245.2" r="4.25" fill="#f9e9e5" stroke="#952f3b" stroke-width="1.6"/>
<path d="M539.7 264.6H550.7M545.2 259.1V270.1" stroke="#1d4795" stroke-width="1.9" fill="none"/>
<path d="M561.4 234.0H570.2" stroke="#b5323f" stroke-width="1.9" fill="none"/>
<path d="M559.7 263.6H568.5" stroke="#b5323f" stroke-width="1.9" fill="none"/>
<circle cx="553.7" cy="280.0" r="4.25" fill="#f9e9e5" stroke="#952f3b" stroke-width="1.6"/>
<circle cx="676.0" cy="251.6" r="4.25" fill="#e5edfa" stroke="#22437f" stroke-width="1.9"/>
<path d="M577.6 232.4H588.6M583.1 226.9V237.9" stroke="#b5323f" stroke-width="1.9" fill="none"/>
<path d="M592.4 232.4H603.4M597.9 226.9V237.9" stroke="#1d4795" stroke-width="1.9" fill="none"/>
<path d="M620.4 232.4H631.4M625.9 226.9V237.9" stroke="#1d4795" stroke-width="1.9" fill="none"/>
<path d="M636.5 232.4H645.3" stroke="#b5323f" stroke-width="1.9" fill="none"/>
<path d="M578.7 271.0H587.5" stroke="#b5323f" stroke-width="1.9" fill="none"/>
<path d="M592.4 271.0H603.4M597.9 265.5V276.5" stroke="#1d4795" stroke-width="1.9" fill="none"/>
<path d="M620.4 271.0H631.4M625.9 265.5V276.5" stroke="#1d4795" stroke-width="1.9" fill="none"/>
<path d="M636.5 271.0H645.3" stroke="#b5323f" stroke-width="1.9" fill="none"/>
<text x="577.2" y="257" font-size="14.5" font-weight="bold" fill="#1b1b1b" textLength="68" lengthAdjust="spacingAndGlyphs">Depletion</text>
<path d="M572.0 251.6L558.5 251.6" stroke="#1b1b1b" stroke-width="2.4" fill="none"/>
<path d="M553.8 251.6L560.8 247.8L559.3 251.6L560.8 255.4Z" fill="#1b1b1b"/>
<text x="578.1" y="192.8" font-size="11.5" font-weight="normal" fill="#1b1b1b" textLength="70.5" lengthAdjust="spacingAndGlyphs">Electric Field</text>
<path d="M578.0 207.2L639.0 207.2" stroke="#1b1b1b" stroke-width="1.9" fill="none"/>
<path d="M644.5 207.2L638.0 204.2L639.2 207.2L638.0 210.2Z" fill="#1b1b1b"/>
<text x="580" y="217.8" font-size="11.5" font-weight="bold" fill="#1b1b1b" textLength="9.2" lengthAdjust="spacingAndGlyphs">N</text>
<text x="632.3" y="217.8" font-size="11.5" font-weight="bold" fill="#1b1b1b" textLength="9.2" lengthAdjust="spacingAndGlyphs">N</text>
<path d="M612.0 102.0L612.0 177.7" stroke="#1b1b1b" stroke-width="1.8" fill="none"/>
<path d="M612.0 95.7L608.1 103.4L612.0 101.8L615.9 103.4Z" fill="#1b1b1b"/>
<path d="M612.0 199.0L612.0 202.0" stroke="#1b1b1b" stroke-width="1.6" fill="none"/>
<path d="M612.0 206.6L609.5 201.1L612.0 201.9L614.5 201.1Z" fill="#1b1b1b"/>
<path d="M579.7 291.1H589.3M584.5 286.3V295.9" stroke="#b5323f" stroke-width="1.6" fill="none"/>
<text x="632.4" y="295.2" font-size="11.5" font-weight="bold" fill="#1b1b1b" textLength="9.5" lengthAdjust="spacingAndGlyphs">N</text>
<path d="M578.4 297.6L639.5 297.6" stroke="#1b1b1b" stroke-width="1.9" fill="none"/>
<path d="M644.7 297.6L638.2 294.6L639.4 297.6L638.2 300.6Z" fill="#1b1b1b"/>
<path d="M612.1 298.4L609.8 303.9L612.1 303.1L614.4 303.9Z" fill="#1b1b1b"/>
<path d="M612.1 303.0L612.1 307.0" stroke="#1b1b1b" stroke-width="1.6" fill="none"/>
<text x="578.4" y="318.2" font-size="11.5" font-weight="normal" fill="#1b1b1b" textLength="69" lengthAdjust="spacingAndGlyphs">Electric Field</text>
<path d="M612.3 322.9L612.3 415.6" stroke="#1b1b1b" stroke-width="1.8" fill="none"/>
<text x="422.6" y="264.9" font-size="16" font-weight="normal" fill="#1b1b1b" textLength="42" lengthAdjust="spacingAndGlyphs">Holes</text>
<text x="479.3" y="262.6" font-size="13" font-weight="normal" fill="#8a3a45" textLength="25" lengthAdjust="spacingAndGlyphs">Hol</text>
<path d="M467.4 259.4L534.0 259.4" stroke="#1b1b1b" stroke-width="1.8" fill="none"/>
<path d="M541.2 259.4L533.2 255.7L535.0 259.4L533.2 263.1Z" fill="#1b1b1b"/>
<text x="479.3" y="273.6" font-size="13" font-weight="normal" fill="#4a2a30" textLength="36.5" lengthAdjust="spacingAndGlyphs">Holes</text>
<text x="741.8" y="252.8" font-size="16.3" font-weight="normal" fill="#1b1b1b" textLength="68" lengthAdjust="spacingAndGlyphs">Electrons</text>
<path d="M737.4 248.9L692.0 248.9" stroke="#1b1b1b" stroke-width="1.8" fill="none"/>
<path d="M685.8 248.9L693.8 245.5L692.2 248.9L693.8 252.3Z" fill="#1b1b1b"/>
<path d="M521.3 404.0L521.3 435.0" stroke="#1b1b1b" stroke-width="1.6" fill="none"/>
<path d="M521.3 439.8L519.1 433.8L521.3 434.8L523.5 433.8Z" fill="#1b1b1b"/>
<rect x="498.5" y="440.5" width="45.7" height="18.2" fill="#fdfcfd" stroke="#1b1b1b" stroke-width="1.7"/>
<rect x="501" y="443" width="41.2" height="13.3" fill="#c3d2f1"/>
<path d="M478.2 449.1L498.0 449.1" stroke="#1b1b1b" stroke-width="1.6" fill="none"/>
<path d="M544.8 449.1H701.8V404" fill="none" stroke="#1b1b1b" stroke-width="1.8"/>
<path d="M479.6 435.1H489.4" stroke="#1b1b1b" stroke-width="1.6" fill="none"/>
<path d="M524.3 485.8L552.3 485.8" stroke="#1b1b1b" stroke-width="1.6" fill="none"/>
<path d="M529.6 477.2L547.0 494.3" stroke="#1b1b1b" stroke-width="1.6" fill="none"/>
<path d="M529.6 494.3L547.0 477.2" stroke="#1b1b1b" stroke-width="1.6" fill="none"/>
<text x="557.3" y="491" font-size="17" font-weight="bold" fill="#1b1b1b" textLength="138" lengthAdjust="spacingAndGlyphs">No Current Flow</text>
</svg>
</body></html>
